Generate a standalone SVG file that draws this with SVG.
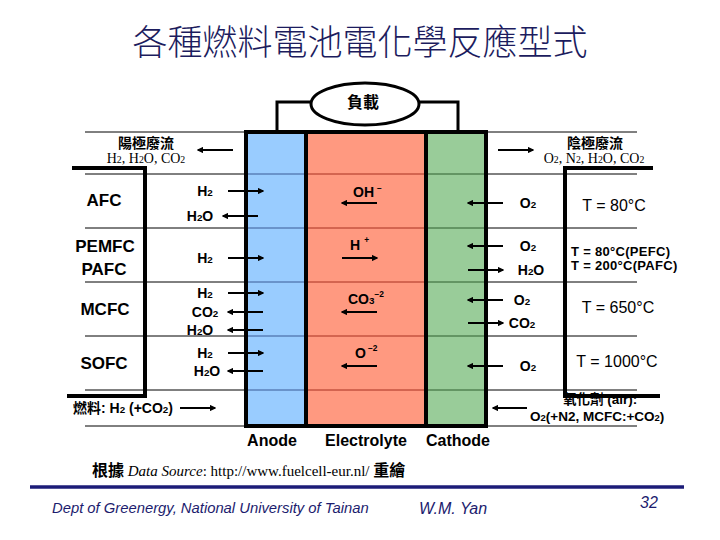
<svg xmlns="http://www.w3.org/2000/svg" width="720" height="540" viewBox="0 0 720 540">
<style>
text{font-family:"Liberation Sans",Arial,"Noto Sans CJK TC",sans-serif;fill:#000}
.ti{font-family:"Noto Sans CJK TC","Noto Sans CJK SC",sans-serif;font-size:35px;font-weight:300;fill:#1c1c5e}
.cj{font-family:"Noto Sans CJK TC","Noto Sans CJK SC",sans-serif;font-weight:bold}
.sf{font-family:"Liberation Serif","Times New Roman",serif;font-size:14px}
.src{font-family:"Liberation Serif","Times New Roman","Noto Sans CJK TC",serif;font-size:15px}
.fc{font-size:17px;font-weight:bold}
.ch{font-size:14px;font-weight:bold}
.tp{font-size:16px}
.tp2{font-size:13px;font-weight:bold;letter-spacing:0.3px}
.ox{font-size:13.5px;font-weight:bold}
.el{font-size:16px;font-weight:bold}
.s{font-size:70%}
.sup{font-size:60%}
.ft{font-style:italic;fill:#1c1c6e}
.sep{stroke:#000;stroke-width:1}
.br{fill:none;stroke:#000;stroke-width:4}
.ar{stroke:#000;stroke-width:2;marker-end:url(#ah)}
.w{fill:none;stroke:#000;stroke-width:3}
</style>
<defs>
<marker id="ah" viewBox="0 0 10 10" refX="8" refY="5" markerWidth="3.2" markerHeight="3.2" orient="auto" markerUnits="strokeWidth">
<path d="M0,0 L10,5 L0,10 z" fill="#000"/>
</marker>
</defs>
<rect width="720" height="540" fill="#fff"/>

<g id="title">
<text class="ti" x="360" y="55" text-anchor="middle">各種燃料電池電化學反應型式</text>
</g>

<g id="cell">
<rect x="246" y="132" width="60" height="294" fill="#99CCFF"/>
<rect x="306" y="132" width="120" height="294" fill="#FF9980"/>
<rect x="426" y="132" width="60" height="294" fill="#99CC99"/>
</g>

<g id="separators">
<g class="sep">
<line x1="85" y1="132" x2="246" y2="132"/><line x1="486" y1="132" x2="637" y2="132"/>
<line x1="85" y1="174" x2="246" y2="174"/><line x1="486" y1="174" x2="637" y2="174"/>
<line x1="85" y1="228" x2="246" y2="228"/><line x1="486" y1="228" x2="637" y2="228"/>
<line x1="85" y1="282" x2="246" y2="282"/><line x1="486" y1="282" x2="637" y2="282"/>
<line x1="85" y1="336" x2="246" y2="336"/><line x1="486" y1="336" x2="637" y2="336"/>
<line x1="85" y1="390" x2="246" y2="390"/><line x1="486" y1="390" x2="637" y2="390"/>
<line x1="85" y1="426" x2="246" y2="426"/><line x1="486" y1="426" x2="637" y2="426"/>
</g>
<g stroke="#3a5a96" stroke-width="1">
<line x1="246" y1="174" x2="306" y2="174"/><line x1="246" y1="228" x2="306" y2="228"/><line x1="246" y1="282" x2="306" y2="282"/><line x1="246" y1="336" x2="306" y2="336"/><line x1="246" y1="390" x2="306" y2="390"/>
</g>
<g stroke="#a83020" stroke-width="1">
<line x1="306" y1="174" x2="426" y2="174"/><line x1="306" y1="228" x2="426" y2="228"/><line x1="306" y1="282" x2="426" y2="282"/><line x1="306" y1="336" x2="426" y2="336"/><line x1="306" y1="390" x2="426" y2="390"/>
</g>
<g stroke="#2e5e2e" stroke-width="1">
<line x1="426" y1="174" x2="486" y2="174"/><line x1="426" y1="228" x2="486" y2="228"/><line x1="426" y1="282" x2="486" y2="282"/><line x1="426" y1="336" x2="486" y2="336"/><line x1="426" y1="390" x2="486" y2="390"/>
</g>
</g>

<g id="cell-border" fill="none" stroke="#000" stroke-width="4">
<rect x="246" y="132" width="240" height="294"/>
<line x1="306" y1="132" x2="306" y2="426"/>
<line x1="426" y1="132" x2="426" y2="426"/>
</g>

<g id="load">
<ellipse cx="365" cy="104" rx="54" ry="21" fill="#fff" stroke="#000" stroke-width="3"/>
<text class="cj" x="363" y="108" font-size="16" text-anchor="middle">負載</text>
</g>

<g id="exhaust-anode">
<text class="cj" x="146" y="148" font-size="14" text-anchor="middle">陽極廢流</text>
<text class="sf" x="146" y="163" text-anchor="middle">H<tspan class="s">2</tspan>, H<tspan class="s">2</tspan>O, CO<tspan class="s">2</tspan></text>
</g>
<g id="exhaust-cathode">
<text class="cj" x="595" y="148" font-size="14" text-anchor="middle">陰極廢流</text>
<text class="sf" x="594" y="163" text-anchor="middle">O<tspan class="s">2</tspan>, N<tspan class="s">2</tspan>, H<tspan class="s">2</tspan>O, CO<tspan class="s">2</tspan></text>
</g>

<g id="row-afc">
<text class="fc" x="104" y="206" text-anchor="middle">AFC</text>
<text class="ch" x="205" y="196" text-anchor="middle">H<tspan class="s">2</tspan></text>
<text class="ch" x="200" y="221" text-anchor="middle">H<tspan class="s">2</tspan>O</text>
<text class="ch" x="353" y="197">OH<tspan class="sup" dx="3" dy="-6">−</tspan></text>
<text class="ch" x="528" y="208" text-anchor="middle">O<tspan class="s">2</tspan></text>
<text class="tp" x="614" y="211" text-anchor="middle">T = 80°C</text>
</g>

<g id="row-pemfc">
<text class="fc" x="105" y="252" text-anchor="middle">PEMFC</text>
<text class="fc" x="104" y="275" text-anchor="middle">PAFC</text>
<text class="ch" x="205" y="263" text-anchor="middle">H<tspan class="s">2</tspan></text>
<text class="ch" x="350" y="250">H<tspan class="sup" dx="4" dy="-7">+</tspan></text>
<text class="ch" x="528" y="251" text-anchor="middle">O<tspan class="s">2</tspan></text>
<text class="ch" x="531" y="275" text-anchor="middle">H<tspan class="s">2</tspan>O</text>
<text class="tp2" x="571" y="256">T = 80°C(PEFC)</text>
<text class="tp2" x="571" y="270">T = 200°C(PAFC)</text>
</g>

<g id="row-mcfc">
<text class="fc" x="105" y="315" text-anchor="middle">MCFC</text>
<text class="ch" x="205" y="298" text-anchor="middle">H<tspan class="s">2</tspan></text>
<text class="ch" x="205" y="317" text-anchor="middle">CO<tspan class="s">2</tspan></text>
<text class="ch" x="200" y="335" text-anchor="middle">H<tspan class="s">2</tspan>O</text>
<text class="ch" x="348" y="304">CO<tspan class="s">3</tspan><tspan class="sup" dy="-7">−2</tspan></text>
<text class="ch" x="522" y="305" text-anchor="middle">O<tspan class="s">2</tspan></text>
<text class="ch" x="522" y="328" text-anchor="middle">CO<tspan class="s">2</tspan></text>
<text class="tp" x="618" y="313" text-anchor="middle">T = 650°C</text>
</g>

<g id="row-sofc">
<text class="fc" x="104" y="369" text-anchor="middle">SOFC</text>
<text class="ch" x="205" y="358" text-anchor="middle">H<tspan class="s">2</tspan></text>
<text class="ch" x="207" y="376" text-anchor="middle">H<tspan class="s">2</tspan>O</text>
<text class="ch" x="355" y="358">O<tspan class="sup" dx="2" dy="-7">−2</tspan></text>
<text class="ch" x="528" y="371" text-anchor="middle">O<tspan class="s">2</tspan></text>
<text class="tp" x="617" y="367" text-anchor="middle">T = 1000°C</text>
</g>

<g id="row-feed">
<text class="ch" x="73" y="413"><tspan class="cj">燃料</tspan>: H<tspan class="s">2</tspan> (+CO<tspan class="s">2</tspan>)</text>
<text class="ox" x="563" y="404"><tspan class="cj">氧化劑</tspan> (air):</text>
<text class="ox" x="530" y="421">O<tspan class="s">2</tspan>(+N2, MCFC:+CO<tspan class="s">2</tspan>)</text>
</g>

<g id="brackets">
<path class="br" d="M72,168 H145 V396 H67"/>
<path class="br" d="M653,168 H565 V396 H660"/>
</g>

<g id="connectors">
<path class="w" d="M311,102 H277 V132 M419,102 H458 V132"/>
<line class="ar" x1="233" y1="150" x2="198" y2="150"/>
<line class="ar" x1="498" y1="150" x2="533" y2="150"/>
<line class="ar" x1="228" y1="191" x2="263" y2="191"/>
<line class="ar" x1="258" y1="216" x2="223" y2="216"/>
<line class="ar" x1="377" y1="203" x2="342" y2="203"/>
<line class="ar" x1="503" y1="203" x2="468" y2="203"/>
<line class="ar" x1="228" y1="258" x2="263" y2="258"/>
<line class="ar" x1="342" y1="258" x2="377" y2="258"/>
<line class="ar" x1="503" y1="246" x2="468" y2="246"/>
<line class="ar" x1="468" y1="270" x2="503" y2="270"/>
<line class="ar" x1="228" y1="293" x2="263" y2="293"/>
<line class="ar" x1="263" y1="312" x2="228" y2="312"/>
<line class="ar" x1="263" y1="330" x2="228" y2="330"/>
<line class="ar" x1="377" y1="312" x2="342" y2="312"/>
<line class="ar" x1="503" y1="300" x2="468" y2="300"/>
<line class="ar" x1="468" y1="323" x2="503" y2="323"/>
<line class="ar" x1="228" y1="353" x2="263" y2="353"/>
<line class="ar" x1="263" y1="371" x2="228" y2="371"/>
<line class="ar" x1="377" y1="366" x2="342" y2="366"/>
<line class="ar" x1="503" y1="366" x2="468" y2="366"/>
<line class="ar" x1="180" y1="408" x2="215" y2="408"/>
<line class="ar" x1="527" y1="408" x2="493" y2="408"/>
</g>

<g id="layer-labels">
<text class="el" x="272" y="446" text-anchor="middle">Anode</text>
<text class="el" x="366" y="446" text-anchor="middle">Electrolyte</text>
<text class="el" x="458" y="446" text-anchor="middle">Cathode</text>
</g>

<g id="source">
<text class="src" x="92" y="476"><tspan class="cj" font-size="16">根據</tspan> <tspan font-style="italic">Data Source</tspan>: http://www.fuelcell-eur.nl/ <tspan class="cj" font-size="16">重繪</tspan></text>
</g>

<g id="footer">
<line x1="30" y1="487" x2="684" y2="487" stroke="#1c1c78" stroke-width="3.5"/>
<text class="ft" x="52" y="513" font-size="14.8">Dept  of Greenergy, National University of Tainan</text>
<text class="ft" x="419" y="514" font-size="16">W.M. Yan</text>
<text class="ft" x="640" y="508" font-size="16">32</text>
</g>
</svg>
